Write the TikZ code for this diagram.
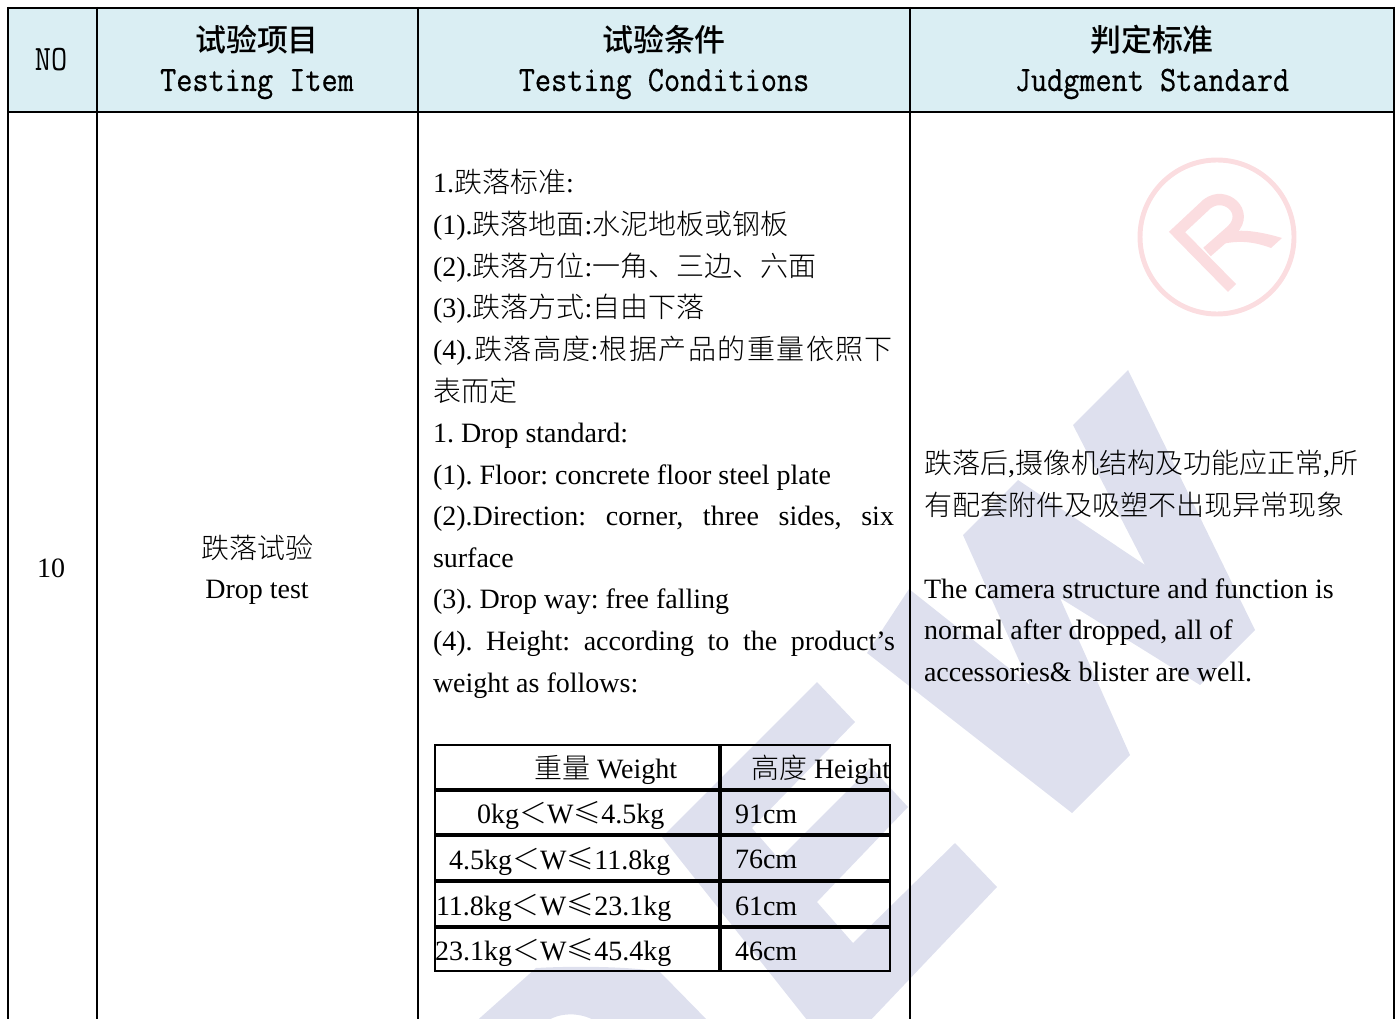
\documentclass[tikz,border=0pt]{standalone}
\usepackage{fontspec}
\usepackage{graphicx}
\setmainfont{Liberation Serif}
\setmonofont{Latin Modern Mono}
\newfontfamily\hdmono{Latin Modern Mono}[FakeBold=0.5]
\newfontfamily\cjk{Noto Sans CJK SC Light}
\newfontfamily\cjkb{Noto Sans CJK SC Medium}
\definecolor{headfill}{HTML}{DAEEF3}
\definecolor{wmblue}{HTML}{DEE0EE}
\definecolor{wmred}{HTML}{FBDDE0}
\tikzset{
  txt/.style={anchor=base west,inner sep=0pt,outer sep=0pt,font=\fontsize{21}{21}\selectfont\frenchspacing},
  ctxt/.style={txt,anchor=base},
  headzh/.style={anchor=base,inner sep=0pt,font=\fontsize{23.2}{23.2}\cjkb},
  headen/.style={anchor=base,inner sep=0pt,font=\fontsize{23.5}{23.5}\hdmono},
  headno/.style={anchor=base,inner sep=0pt,font=\fontsize{23.5}{23.5}\ttfamily},
  grid/.style={line width=1.9pt,black},
  tabthin/.style={line width=1.5pt,black},
  tabthick/.style={line width=3pt,black},
}
\newcommand{\js}[2]{\makebox[#1pt][s]{#2}}
\newcommand{\tall}[1]{\scalebox{1}[1.14]{#1}}
\begin{document}
\begin{tikzpicture}[x=0.75pt,y=-0.75pt]
\useasboundingbox (0,0) rectangle (1399,1019);
\begin{scope}
\clip (0,0) rectangle (1399,1019);
% watermark W
\fill[wmblue] (1128,370) -- (1255,630) -- (1200,685) -- (1060,598) -- (1130,755) -- (1072,813) -- (867,653) -- (909,589) -- (1030,685) -- (963,535) -- (1018,480) -- (1145,565) -- (1073,425) -- cycle;
% watermark E
\fill[wmblue] (817,682) -- (855,722) -- (752,828) -- (779,859) -- (871,767) -- (908,807) -- (817,902) -- (853,943) -- (955,843) -- (997,887) -- (866,1025) -- (811,1025) -- (662,837) -- cycle;
% watermark R
\fill[wmblue] (472,1025) -- (536,968) .. controls (570,966) and (630,966) .. (660,972) -- (712,1025) -- (600,1025) .. controls (590,1014) and (560,1008) .. (542,1025) -- cycle;
% logo
\draw[wmred,line width=3.7pt] (1217,237) circle[radius=77];
\draw[wmred,line width=8.5pt,line join=miter] (1232,288) -- (1177,232) -- (1207,204) .. controls (1225,190) and (1250,212) .. (1232,230) -- (1207,252);
\fill[wmred] (1226,233) .. controls (1240,228) and (1262,232) .. (1282,238) -- (1271,248) .. controls (1255,242) and (1240,240) .. (1222,244) -- cycle;
\end{scope}
% header
\fill[headfill] (8,8) rectangle (1394,112);
\draw[grid] (8,8) -- (1394,8);
\draw[grid] (8,112) -- (1394,112);
\foreach \x in {8,97,418,910,1394} \draw[grid] (\x,7) -- (\x,1019);
\node[headno] (h0) at (51,71) {\tall{NO}};
\node[headzh] (h1a) at (257,52) {试验项目};
\node[headen] (h1b) at (257,91) {\tall{Testing Item}};
\node[headzh] (h2a) at (664,52) {试验条件};
\node[headen] (h2b) at (664,91) {\tall{Testing Conditions}};
\node[headzh] (h3a) at (1152,52) {判定标准};
\node[headen] (h3b) at (1152,91) {\tall{Judgment Standard}};
% first columns
\node[ctxt] (no) at (51,577) {10};
\node[ctxt] (ita) at (257,558) {\cjk 跌落试验};
\node[ctxt] (itb) at (257,598) {Drop test};
% conditions
\node[txt] (c1) at (433,193) {1.{\cjk 跌落标准}:};
\node[txt] (c2) at (433,235) {(1).{\cjk 跌落地面}:{\cjk 水泥地板或钢板}};
\node[txt] (c3) at (433,277) {(2).{\cjk 跌落方位}:{\cjk 一角、三边、六面}};
\node[txt] (c4) at (433,318) {(3).{\cjk 跌落方式}:{\cjk 自由下落}};
\node[txt] (c5) at (433,360) {\js{345}{(4).\hfill{\cjk 跌}\hfill{\cjk 落}\hfill{\cjk 高}\hfill{\cjk 度}:\hfill{\cjk 根}\hfill{\cjk 据}\hfill{\cjk 产}\hfill{\cjk 品}\hfill{\cjk 的}\hfill{\cjk 重}\hfill{\cjk 量}\hfill{\cjk 依}\hfill{\cjk 照}\hfill{\cjk 下}}};
\node[txt] (c6) at (433,402) {\cjk 表而定};
\node[txt] (c7) at (433,443) {1. Drop standard:};
\node[txt] (c8) at (433,484) {(1). Floor: concrete floor steel plate};
\node[txt] (c9) at (433,525) {\js{345.75}{(2).Direction: corner, three sides, six}};
\node[txt] (c10) at (433,567) {surface};
\node[txt] (c11) at (433,608) {(3). Drop way: free falling};
\node[txt] (c12) at (433,650) {\js{346.5}{(4). Height: according to the product’s}};
\node[txt] (c13) at (433,692) {weight as follows:};
% inner table
\draw[tabthin] (435,745) rectangle (890,971);
\draw[tabthick] (720,745) -- (720,971);
\foreach \y in {790,835,881,927} \draw[tabthick] (435,\y) -- (890,\y);
\node[txt] (t0a) at (534,778) {{\cjk 重量} Weight};
\node[txt] (t0b) at (751,778) {{\cjk 高度} Height};
\node[txt] (t1a) at (477,823.5) {0kg{\cjk ＜}W{\cjk ≤}4.5kg};
\node[txt] (t1b) at (735,823.5) {91cm};
\node[txt] (t2a) at (449,869.5) {4.5kg{\cjk ＜}W{\cjk ≤}11.8kg};
\node[txt] (t2b) at (735,868.5) {76cm};
\node[txt] (t3a) at (436,915) {11.8kg{\cjk ＜}W{\cjk ≤}23.1kg};
\node[txt] (t3b) at (735,915) {61cm};
\node[txt] (t4a) at (435,960.5) {23.1kg{\cjk ＜}W{\cjk ≤}45.4kg};
\node[txt] (t4b) at (735,960.5) {46cm};
% judgment
\node[txt] (j1) at (924,474) {\js{325.5}{{\cjk 跌落后},{\cjk 摄像机结构及功能应正常},{\cjk 所}}};
\node[txt] (j2) at (924,516) {\cjk 有配套附件及吸塑不出现异常现象};
\node[txt] (j3) at (924,598) {The camera structure and function is};
\node[txt] (j4) at (924,639) {normal after dropped, all of};
\node[txt] (j5) at (924,681) {accessories\& blister are well.};
\end{tikzpicture}
\end{document}
